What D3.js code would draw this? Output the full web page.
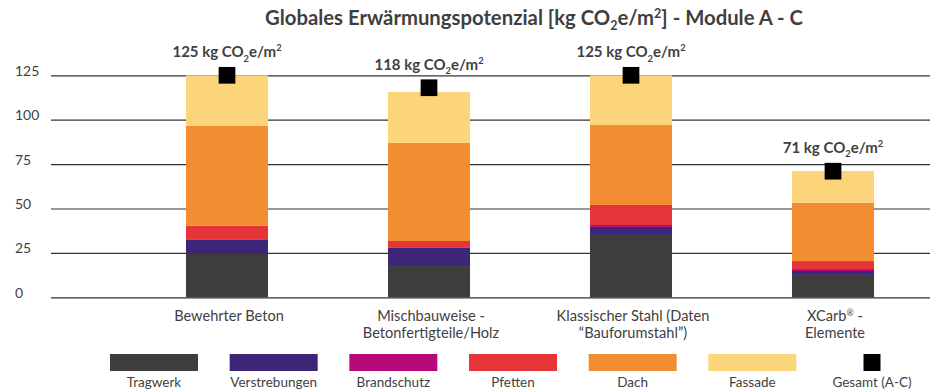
<!DOCTYPE html>
<html lang="de">
<head>
<meta charset="utf-8">
<script src="https://cdn.jsdelivr.net/npm/d3@7"></script>
<style>
  html, body { margin: 0; padding: 0; background: #fff; }
  svg { display: block; font-family: Lato, "Noto Sans", sans-serif; }
</style>
</head>
<body>
<svg id="chart" width="930" height="390"></svg>
<script>
// Categories (line breaks marked with \n)
const categories = [
  "Bewehrter Beton",
  "Mischbauweise -\nBetonfertigteile/Holz",
  "Klassischer Stahl (Daten\n\u201CBauforumstahl\u201D)",
  "XCarb\u00AE -\nElemente"
];

// Stack components, kg CO2e/m2
const tragwerk      = [24.5, 17.6, 35.1, 12.6];
const verstrebungen = [7.8, 10.2, 4.5, 2.2];
const brandschutz   = [0, 0, 1.1, 1.1];
const pfetten       = [8.0, 3.9, 11.3, 4.5];
const dach          = [56.2, 55.2, 45.0, 32.9];
const fassade       = [28.5, 28.7, 28.0, 17.8];

// Total (Module A-C)
const gesamt = [125, 118, 125, 71];

const yTicks = [0, 25, 50, 75, 100, 125];

const seriesNames = ["Tragwerk", "Verstrebungen", "Brandschutz", "Pfetten", "Dach", "Fassade"];
const seriesValues = [tragwerk, verstrebungen, brandschutz, pfetten, dach, fassade];
const seriesColors = ["#3d3d3b", "#3d2577", "#b8097b", "#e63539", "#f28e31", "#fcd47a"];
const totalName = "Gesamt (A-C)";

const svg = d3.select("#chart");
const textColor = "#3f3f3f";

// Scales
const y = d3.scaleLinear().domain([0, 125]).range([297.3, 75.3]);
const x = d3.scaleBand().domain(categories).range([126, 934])
  .paddingInner(0.594).paddingOuter(0.297);

// Table of rows for d3.stack
const rows = categories.map((c, i) => {
  const r = { cat: c };
  seriesNames.forEach((s, k) => r[s] = seriesValues[k][i]);
  return r;
});
const stacked = d3.stack().keys(seriesNames)(rows);

// Gridlines + y labels
const yAxis = d3.axisLeft(y).tickValues(yTicks).tickSize(-879).tickPadding(0).tickFormat(d3.format("d"));
const ga = svg.append("g").attr("transform", "translate(930,0)").call(yAxis);
ga.select(".domain").remove();
ga.selectAll(".tick line").attr("stroke", "#333").attr("stroke-width", 1.2)
  .attr("x1", -879).attr("x2", 0);
ga.selectAll(".tick text")
  .attr("x", -915).attr("dy", "0")
  .attr("text-anchor", "start")
  .attr("fill", textColor)
  .style("font-size", "14px")
  .style("font-family", "Lato, sans-serif");

// Stacked bars
svg.append("g").selectAll("g").data(stacked).join("g")
  .attr("fill", (d, i) => seriesColors[i])
  .selectAll("rect").data(d => d).join("rect")
  .attr("x", d => x(d.data.cat))
  .attr("width", x.bandwidth())
  .attr("y", d => y(d[1]))
  .attr("height", d => y(d[0]) - y(d[1]));

// Total markers
const mk = 16.7;
svg.append("g").selectAll("rect").data(gesamt).join("rect")
  .attr("x", (d, i) => x(categories[i]) + x.bandwidth() / 2 - mk / 2)
  .attr("y", d => y(d) - mk / 2)
  .attr("width", mk).attr("height", mk)
  .attr("fill", "#000");

// Unit label with sub/superscript
function unitText(sel, prefix, size) {
  sel.append("tspan").text(prefix + "CO");
  sel.append("tspan").attr("dy", size * 0.28).style("font-size", (size * 0.62) + "px").text("2");
  sel.append("tspan").attr("dy", -size * 0.28).text("e/m");
  sel.append("tspan").attr("dy", -size * 0.4).style("font-size", (size * 0.62) + "px").text("2");
  sel.append("tspan").attr("dy", size * 0.4).text("");
}

// Value labels
svg.append("g").selectAll("text").data(gesamt).join("text")
  .attr("x", (d, i) => x(categories[i]) + x.bandwidth() / 2)
  .attr("y", d => y(d) - 18)
  .attr("text-anchor", "middle")
  .attr("fill", textColor)
  .style("font-size", "15px")
  .style("font-weight", "700")
  .each(function (d) { unitText(d3.select(this), d + " kg ", 15); });

// Category labels, one text per line; the registered sign is a small superscript
const catSize = 14.6;
const catLines = [];
categories.forEach(c => c.split("\n").forEach((line, j) => catLines.push({ cat: c, line, j })));
svg.append("g").selectAll("text").data(catLines).join("text")
  .attr("x", d => x(d.cat) + x.bandwidth() / 2 + 2)
  .attr("y", d => 321 + d.j * 16.5)
  .attr("text-anchor", "middle")
  .attr("fill", textColor)
  .style("font-size", catSize + "px")
  .each(function (d) {
    const t = d3.select(this);
    const parts = d.line.split("\u00AE");
    t.append("tspan").text(parts[0]);
    if (parts.length > 1) {
      t.append("tspan").attr("dy", -5).style("font-size", (catSize * 0.6) + "px").text("\u00AE");
      t.append("tspan").attr("dy", 5).text(parts[1]);
    }
  });

// Title
const title = svg.append("text")
  .attr("x", 534).attr("y", 25)
  .attr("text-anchor", "middle")
  .attr("fill", textColor)
  .style("font-size", "20.3px")
  .style("font-weight", "700");
title.append("tspan").text("Globales Erw\u00E4rmungspotenzial [kg CO");
title.append("tspan").attr("dy", 5).style("font-size", "12.5px").text("2");
title.append("tspan").attr("dy", -5).text("e/m");
title.append("tspan").attr("dy", -7).style("font-size", "12.5px").text("2");
title.append("tspan").attr("dy", 7).text("] - Module A - C");

// Legend
const legendNames = seriesNames.concat([totalName]);
const legendColors = seriesColors.concat(["#000"]);
const lx = d3.scalePoint().domain(legendNames).range([154, 872]);
const lg = svg.append("g").selectAll("g").data(legendNames).join("g")
  .attr("transform", d => `translate(${lx(d)},0)`);
lg.append("rect")
  .attr("x", (d, i) => i === legendNames.length - 1 ? -8.5 : -44)
  .attr("width", (d, i) => i === legendNames.length - 1 ? 17 : 88)
  .attr("y", 354).attr("height", 17)
  .attr("fill", (d, i) => legendColors[i]);
lg.append("text")
  .attr("y", 387)
  .attr("text-anchor", "middle")
  .attr("fill", textColor)
  .style("font-size", "13.5px")
  .text(d => d);
</script>
</body>
</html>
